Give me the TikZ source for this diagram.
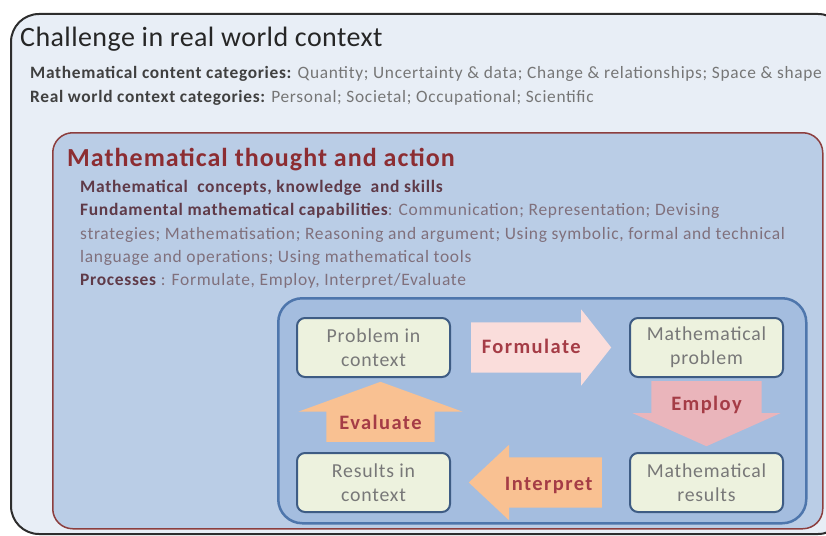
\documentclass[tikz,border=0pt]{standalone}
\usepackage{fontspec}
\setmainfont{Carlito}
\newfontfamily\spacedfont{Carlito}[LetterSpace=4]
\newfontfamily\labelfont{Carlito}[LetterSpace=7]
\newfontfamily\headfont{Carlito}[LetterSpace=1.5]
\usetikzlibrary{shapes.arrows, positioning}
\definecolor{titlegrey}{RGB}{38,38,38}
\definecolor{catdark}{RGB}{64,64,64}
\definecolor{catgrey}{RGB}{118,118,118}
\definecolor{thoughtred}{RGB}{140,45,50}
\definecolor{mauvedark}{RGB}{95,58,72}
\definecolor{mauvegrey}{RGB}{128,112,124}
\definecolor{boxtext}{RGB}{120,120,120}
\definecolor{labelred}{RGB}{165,60,70}
\definecolor{outerfill}{RGB}{232,238,246}
\definecolor{outerdraw}{RGB}{45,45,45}
\definecolor{panelfill}{RGB}{186,205,230}
\definecolor{paneldraw}{RGB}{140,62,62}
\definecolor{cyclefill}{RGB}{164,189,223}
\definecolor{cycledraw}{RGB}{78,118,172}
\definecolor{stagefill}{RGB}{237,242,222}
\definecolor{stagedraw}{RGB}{62,92,132}
\definecolor{formfill}{RGB}{250,221,219}
\definecolor{employfill}{RGB}{234,181,187}
\definecolor{backfill}{RGB}{249,193,146}
\newcommand{\catlead}[1]{\textbf{\textcolor{catdark}{#1}}}
\newcommand{\mathlead}[1]{\textbf{\textcolor{mauvedark}{#1}}}
\tikzset{
  frame/.style={
    rectangle, anchor=north west, rounded corners=28pt,
    draw=outerdraw, line width=2pt, fill=outerfill
  },
  panel/.style={
    rectangle, anchor=north west, rounded corners=20pt,
    draw=paneldraw, line width=1.5pt, fill=panelfill
  },
  cyclebox/.style={
    rectangle, anchor=north west, rounded corners=24pt,
    draw=cycledraw, line width=2.5pt, fill=cyclefill
  },
  stage/.style={
    rectangle, rounded corners=8pt, draw=stagedraw, line width=2pt,
    fill=stagefill, minimum width=153pt, minimum height=59pt,
    align=center, text=boxtext, font=\spacedfont\fontsize{19.8}{24}\selectfont
  },
  catline/.style={
    anchor=base west, inner sep=0pt, text=catgrey,
    font=\spacedfont\fontsize{17.35}{17.35}\selectfont
  },
  bodyline/.style={
    anchor=base west, inner sep=0pt, text=mauvegrey,
    font=\spacedfont\fontsize{17.45}{17.45}\selectfont
  },
  flowarrow/.style={
    single arrow, inner sep=0pt, align=center,
    text=labelred, font=\labelfont\fontsize{20.5}{20.5}\selectfont\bfseries
  },
}
\begin{document}
\begin{tikzpicture}[x=1pt, y=-1pt, node distance=74pt and 178pt]
  \useasboundingbox (0,0) rectangle (826,535);
  \clip (0,0) rectangle (826,535);

  % outer frame
  \node (challenge) [frame, minimum width=835pt, minimum height=520pt] at (10,13) {};
  \node (title) [anchor=base west, inner sep=0pt, text=titlegrey,
                 font=\headfont\fontsize{28}{28}\selectfont] at (20,46) {Challenge in real world context};
  \node (content) [catline] at (30,78)
    {\catlead{Mathematical content categories:} Quantity; Uncertainty \& data; Change \& relationships; Space \& shape};
  \node (context) [catline] at (30,102)
    {\catlead{Real world context categories:} Personal; Societal; Occupational; Scientific};

  % mathematical thought and action
  \node (thought) [panel, minimum width=770pt, minimum height=396pt] at (52,132) {};
  \node (mtitle) [anchor=base west, inner sep=0pt, text=thoughtred,
                  font=\spacedfont\fontsize{26}{26}\selectfont\bfseries] at (67,166) {Mathematical thought and action};
  \node (concepts) [bodyline] at (80,192) {\mathlead{Mathematical~ concepts, knowledge~ and skills}};
  \node (caps1) [bodyline] at (80,215.5)
    {\mathlead{Fundamental mathematical capabilities}: Communication; Representation; Devising};
  \node (caps2) [bodyline] at (80,239)
    {strategies; Mathematisation; Reasoning and argument; Using symbolic, formal and technical};
  \node (caps3) [bodyline] at (80,262) {language and operations; Using mathematical tools};
  \node (procs) [bodyline] at (80,285.5) {\mathlead{Processes} : Formulate, Employ, Interpret/Evaluate};

  % modelling cycle
  \node (cycle) [cyclebox, minimum width=528pt, minimum height=225pt] at (277,297) {};
  \node (prob)  [stage] at (373.5,347.5) {Problem in\\context};
  \node (mprob) [stage, right=of prob]   {Mathematical\\problem};
  \node (res)   [stage, below=of prob]   {Results in\\context};
  \node (mres)  [stage, below=of mprob]  {Mathematical\\results};

  \node (formulate) [flowarrow, fill=formfill, right=20pt of prob,
      text width=110pt, text height=31pt, text depth=19pt, minimum width=76pt, minimum height=140pt,
      single arrow head extend=13pt, single arrow tip angle=103.5] {Formulate};
  \node (employ) [flowarrow, fill=employfill, below=3pt of mprob, shape border rotate=270,
      text width=110pt, text height=25pt, text depth=7pt, minimum width=148pt, minimum height=65pt,
      single arrow head extend=19pt, single arrow tip angle=131.8] {Employ};
  \node (interpret) [flowarrow, fill=backfill, left=27pt of mres, shape border rotate=180,
      text width=93pt, text height=33pt, text depth=17pt, minimum width=75pt, minimum height=133pt,
      single arrow head extend=12.5pt, single arrow tip angle=86.3] {Interpret};
  \node (evaluate) [flowarrow, fill=backfill, above=10pt of res, xshift=7pt, shape border rotate=90,
      text width=108pt, text height=23pt, text depth=7pt, minimum width=164pt, minimum height=60pt,
      single arrow head extend=28pt, single arrow tip angle=140] {Evaluate};
\end{tikzpicture}
\end{document}
